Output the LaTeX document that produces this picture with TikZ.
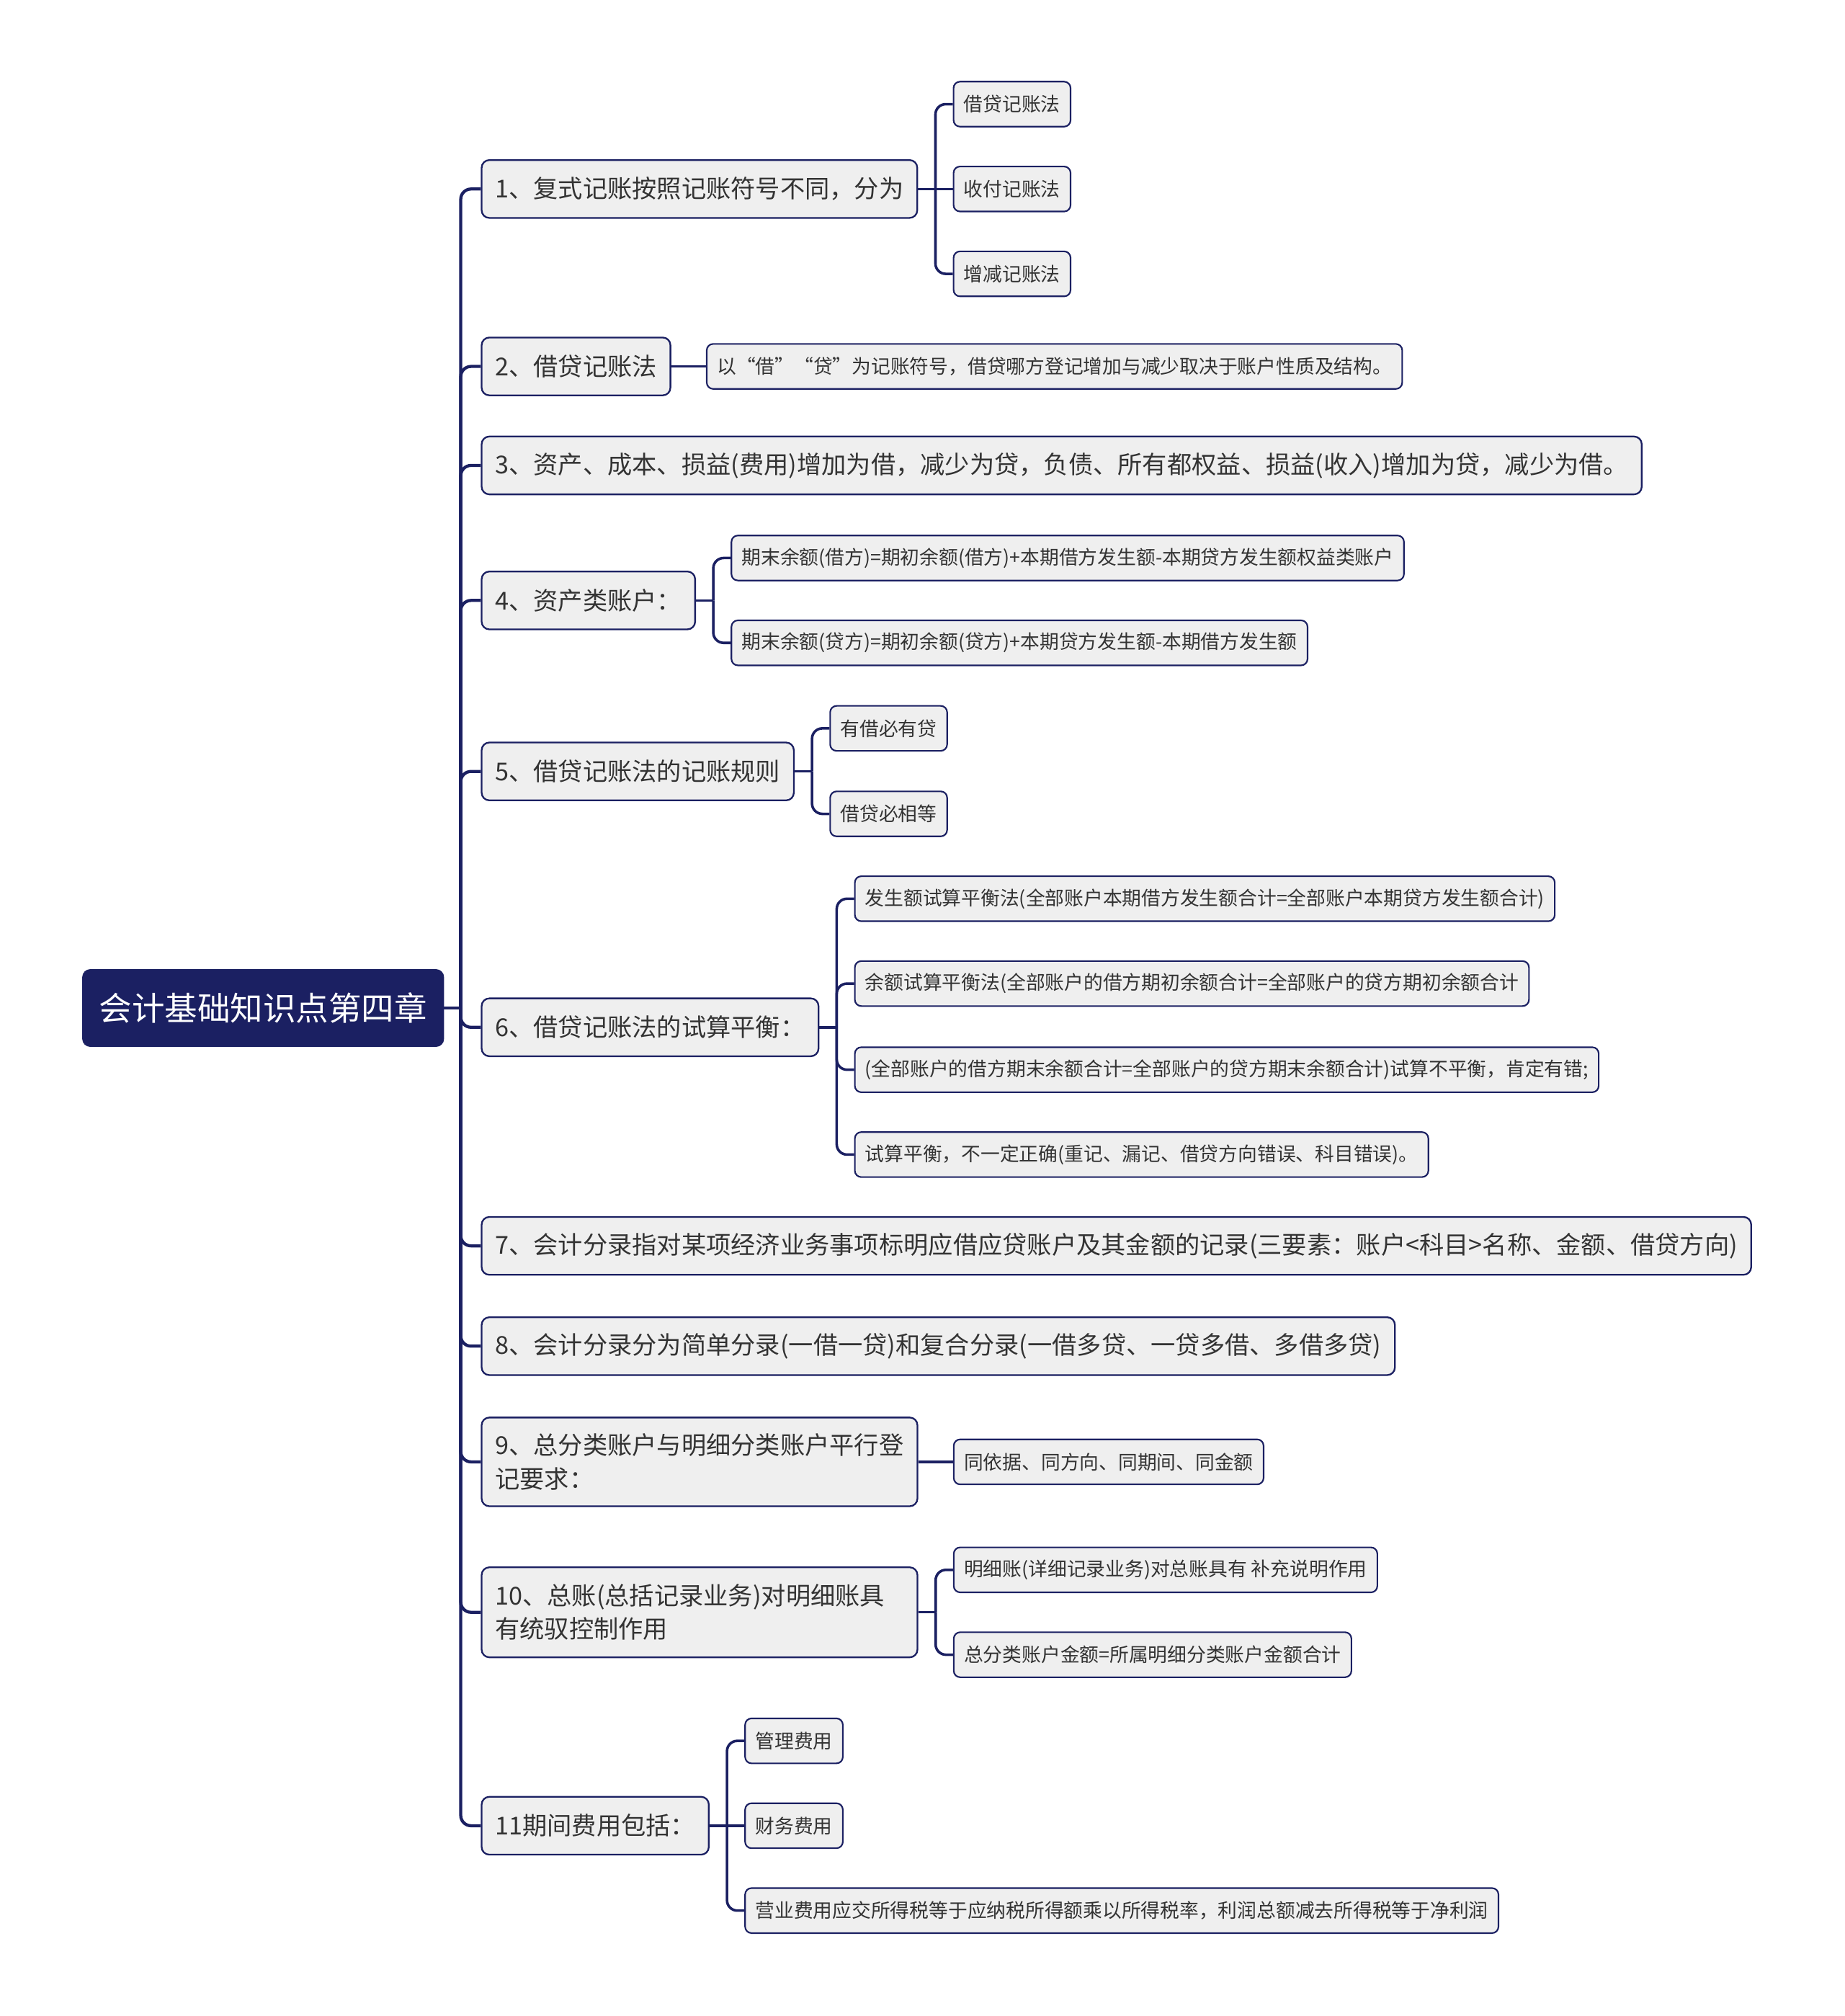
\documentclass[tikz,border=0pt]{standalone}
\usepackage{fontspec}
\newfontfamily\cjk{Noto Sans CJK SC}
\usetikzlibrary{positioning}
\definecolor{blu}{HTML}{1B2062}
\definecolor{grigio}{HTML}{EFEFEF}
\definecolor{testo}{HTML}{333333}

\begin{document}
\begin{tikzpicture}[x=1pt, y=-1pt,
    radice/.style={fill=blu, draw=blu, rounded corners=6pt, text=white, font=\cjk\fontsize{25.5}{30}\selectfont, minimum height=60pt, inner xsep=13pt, inner ysep=0pt},
    ramo/.style={fill=grigio, draw=blu, line width=1.3pt, rounded corners=6pt, text=testo, font=\cjk\fontsize{19.2}{26}\selectfont, minimum height=45pt, inner xsep=10.5pt, inner ysep=0pt, anchor=west, align=left},
    foglia/.style={fill=grigio, draw=blu, line width=1.2pt, rounded corners=5pt, text=testo, font=\cjk\fontsize{15}{18}\selectfont, minimum height=35pt, inner xsep=8pt, inner ysep=0pt},
    linea/.style={draw=blu, line width=2.4pt},
    lineaf/.style={draw=blu, line width=2pt, rounded corners=8pt}]

\useasboundingbox (0,0) rectangle (1435,1568);

% Nodo centrale
\node[radice, anchor=west] (tema) at (64,784) {会计基础知识点第四章};

% Rami principali
\node[ramo] (n1) at (374,147) {1、复式记账按照记账符号不同，分为};
\node[ramo] (n2) at (374,285) {2、借贷记账法};
\node[ramo] (n3) at (374,362) {3、资产、成本、损益(费用)增加为借，减少为贷，负债、所有都权益、损益(收入)增加为贷，减少为借。};
\node[ramo] (n4) at (374,467) {4、资产类账户：};
\node[ramo] (n5) at (374,600) {5、借贷记账法的记账规则};
\node[ramo] (n6) at (374,799) {6、借贷记账法的试算平衡：};
\node[ramo] (n7) at (374,969) {7、会计分录指对某项经济业务事项标明应借应贷账户及其金额的记录(三要素：账户<科目>名称、金额、借贷方向)};
\node[ramo] (n8) at (374,1047) {8、会计分录分为简单分录(一借一贷)和复合分录(一借多贷、一贷多借、多借多贷)};
\node[ramo, minimum height=69pt, text width=318pt] (n9) at (374,1137) {9、总分类账户与明细分类账户平行登\\记要求：};
\node[ramo, minimum height=70pt, text width=318pt] (n10) at (374,1254) {10、总账(总括记录业务)对明细账具\\有统驭控制作用};
\node[ramo] (n11) at (374,1420) {11期间费用包括：};

% Tronco
\draw[linea] (tema.east) -- ++(13,0) coordinate (tr);
\foreach \n in {n1,n2,n3,n4,n5,n6,n7,n8,n9,n10,n11}
    \draw[lineaf, line width=2.4pt] (tr) |- (\n.west);

% Foglie
\foreach \dy/\nome/\testo in {66/a/借贷记账法, 0/b/收付记账法, -66/c/增减记账法}
    \node[foglia, right=27pt of n1, yshift=\dy pt] (n1\nome) {\testo};
\node[foglia, right=27pt of n2] (n2a) {以“借”“贷”为记账符号，借贷哪方登记增加与减少取决于账户性质及结构。};
\foreach \dy/\nome/\testo in {33/a/期末余额(借方)=期初余额(借方)+本期借方发生额-本期贷方发生额权益类账户, -33/b/期末余额(贷方)=期初余额(贷方)+本期贷方发生额-本期借方发生额}
    \node[foglia, right=27pt of n4, yshift=\dy pt] (n4\nome) {\testo};
\foreach \dy/\nome/\testo in {33.5/a/有借必有贷, -33/b/借贷必相等}
    \node[foglia, right=27pt of n5, yshift=\dy pt] (n5\nome) {\testo};
\foreach \dy/\nome/\testo in {100/a/发生额试算平衡法(全部账户本期借方发生额合计=全部账户本期贷方发生额合计), 34/b/余额试算平衡法(全部账户的借方期初余额合计=全部账户的贷方期初余额合计, -33/c/(全部账户的借方期末余额合计=全部账户的贷方期末余额合计)试算不平衡，肯定有错;, -99/d/试算平衡，不一定正确(重记、漏记、借贷方向错误、科目错误)。}
    \node[foglia, right=27pt of n6, yshift=\dy pt] (n6\nome) {\testo};
\node[foglia, right=27pt of n9] (n9a) {同依据、同方向、同期间、同金额};
\foreach \dy/\nome/\testo in {33/a/明细账(详细记录业务)对总账具有 补充说明作用, -33/b/总分类账户金额=所属明细分类账户金额合计}
    \node[foglia, right=27pt of n10, yshift=\dy pt] (n10\nome) {\testo};
\foreach \dy/\nome/\testo in {66/a/管理费用, 0/b/财务费用, -66/c/营业费用应交所得税等于应纳税所得额乘以所得税率，利润总额减去所得税等于净利润}
    \node[foglia, right=27pt of n11, yshift=\dy pt] (n11\nome) {\testo};

% Collegamenti alle foglie
\foreach \n/\figli in {n1/{a,c}, n4/{a,b}, n5/{a,b}, n6/{a,b,c,d}, n10/{a,b}, n11/{a,c}} {
    \draw[linea, line width=2pt] (\n.east) -- ++(13.5,0) coordinate (h\n);
    \foreach \f in \figli
        \draw[lineaf] (h\n) |- (\n\f.west);
}
\draw[linea, line width=2pt] (hn1) -- (n1b.west);
\draw[linea, line width=2pt] (hn11) -- (n11b.west);
\draw[linea, line width=2pt] (n2.east) -- (n2a.west);
\draw[linea, line width=2pt] (n9.east) -- (n9a.west);

\end{tikzpicture}
\end{document}
